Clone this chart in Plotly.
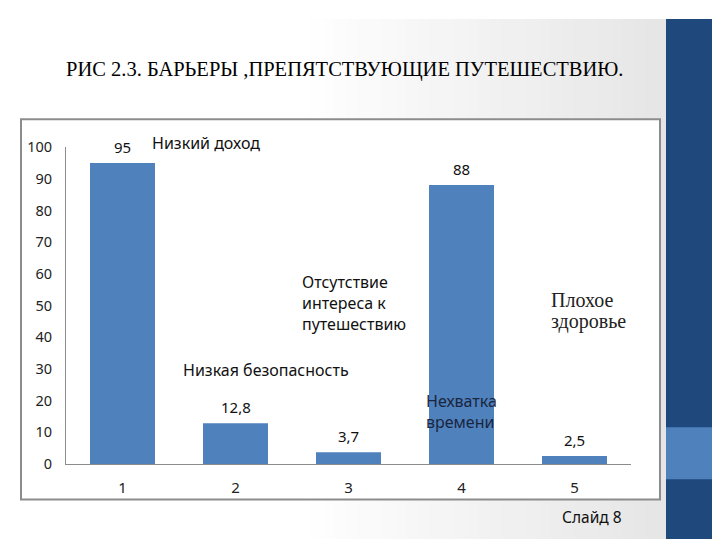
import plotly.graph_objects as go

# данные диаграммы
categories = [1, 2, 3, 4, 5]
values = [95, 12.8, 3.7, 88, 2.5]
value_labels = ["95", "12,8", "3,7", "88", "2,5"]
y_ticks = list(range(0, 101, 10))

title_text = "РИС 2.3. БАРЬЕРЫ ,ПРЕПЯТСТВУЮЩИЕ ПУТЕШЕСТВИЮ."
barrier_names = ["Низкий доход", "Низкая безопасность",
                 "Отсутствие<br>интереса к<br>путешествию",
                 "Нехватка<br>времени", "Плохое", "здоровье"]

W, H = 720, 540
OFF = 8  # страница открывается с отступом body
BAR = "#4f81bd"
SANS = "Noto Sans"
SERIF = "Liberation Serif"


def px(x):
    return (x - OFF) / W


def py(y):
    return (H - (y - OFF)) / H


fig = go.Figure()
fig.add_trace(go.Bar(
    x=categories, y=values,
    marker=dict(color=BAR, line=dict(width=0)),
    width=0.575,
))

shapes = []
# фон слайда: лёгкий градиент к правому краю
n = 30
for i in range(n):
    x0 = 0.42 + i * (0.5 / n)
    g = int(255 - (255 - 230) * (i + 1) / n)
    shapes.append(dict(type="rect", xref="paper", yref="paper",
                       x0=x0, x1=x0 + 0.5 / n + 0.002, y0=0, y1=1,
                       fillcolor=f"rgb({g},{g},{g})", line=dict(width=0),
                       layer="below"))
# синяя полоса справа
shapes.append(dict(type="rect", xref="paper", yref="paper",
                   x0=px(666), x1=1, y0=0, y1=1,
                   fillcolor="#1f497d", line=dict(width=0), layer="below"))
shapes.append(dict(type="rect", xref="paper", yref="paper",
                   x0=px(666), x1=1, y0=py(486), y1=py(432),
                   fillcolor="#4f81bd", line=dict(width=0), layer="below"))
# рамка диаграммы
shapes.append(dict(type="rect", xref="paper", yref="paper",
                   x0=px(21), x1=px(660), y0=py(507), y1=py(112),
                   fillcolor="white", line=dict(color="#8c8c8c", width=2),
                   layer="below"))

annotations = []
# подписи значений над столбцами
for c, v, lab in zip(categories, values, value_labels):
    annotations.append(dict(text=lab, x=c, y=v, xref="x", yref="y",
                            showarrow=False, yshift=16, yanchor="middle",
                            font=dict(family=SANS, size=15, color="#111111")))

text_items = [
    dict(text=title_text, x=px(345), y=py(60), xanchor="center",
         font=dict(family=SERIF, size=20.5, color="#000000")),
    dict(text=barrier_names[0], x=px(150), y=py(137), xanchor="left",
         font=dict(family=SANS, size=16, color="#111111")),
    dict(text=barrier_names[1], x=px(181), y=py(372), xanchor="left",
         font=dict(family=SANS, size=16, color="#111111")),
    dict(text=barrier_names[2], x=px(300), y=py(303), xanchor="left",
         align="left", font=dict(family=SANS, size=16, color="#111111")),
    dict(text=barrier_names[3], x=px(424), y=py(416), xanchor="left",
         align="left", font=dict(family=SANS, size=16, color="#1a2540")),
    dict(text=barrier_names[4], x=px(549), y=py(300), xanchor="left",
         font=dict(family=SERIF, size=20, color="#222222")),
    dict(text=barrier_names[5], x=px(549), y=py(322), xanchor="left",
         font=dict(family=SERIF, size=20, color="#222222")),
    dict(text="Слайд 8", x=px(560), y=py(525), xanchor="left",
         font=dict(family=SANS, size=15.5, color="#111111")),
]
for a in text_items:
    a.update(xref="paper", yref="paper", showarrow=False, yanchor="middle")
annotations += text_items

fig.update_layout(
    width=W, height=H,
    margin=dict(l=0, r=0, t=0, b=0),
    paper_bgcolor="#ffffff",
    plot_bgcolor="rgba(0,0,0,0)",
    showlegend=False,
    shapes=shapes,
    annotations=annotations,
    xaxis=dict(domain=[px(66), px(631)], range=[0.5, 5.5],
               tickvals=categories, ticktext=[str(c) for c in categories],
               showline=True, linecolor="#8c8c8c", linewidth=1,
               showgrid=False, zeroline=False, ticks="",
               ticklabelstandoff=10,
               tickfont=dict(family=SANS, size=15, color="#222222")),
    yaxis=dict(domain=[py(470), py(141)], range=[0, 100],
               tickvals=y_ticks,
               showline=True, linecolor="#8c8c8c", linewidth=1,
               showgrid=False, zeroline=False, ticks="",
               ticklabelstandoff=10,
               tickfont=dict(family=SANS, size=14.5, color="#222222")),
)

fig.write_html("out.html")
